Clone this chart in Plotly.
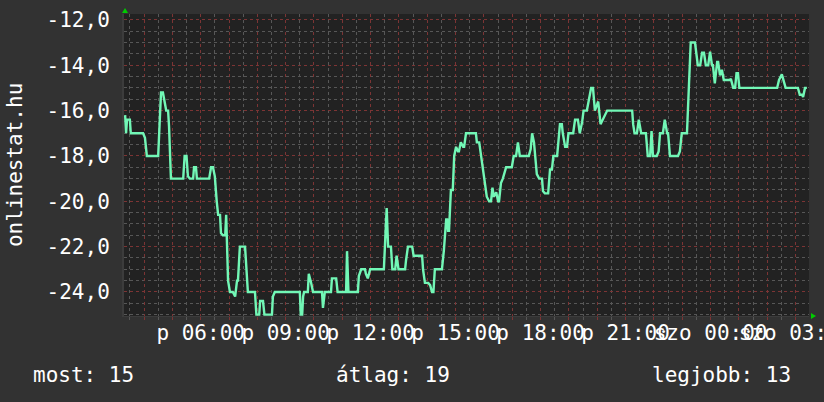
import plotly.graph_objects as go
from datetime import datetime, timedelta

# ---------------- data ----------------
BASE = datetime(2024, 5, 3)  # péntek 00:00

# minutes since Friday 00:00
minutes = [200, 202, 204, 210, 212, 238, 242, 246, 270, 272, 276, 280, 282, 287, 291, 293, 297,
           323, 326, 330, 333, 337, 344, 346, 350, 352, 378, 382, 386, 390, 394, 397, 401, 403,
           407, 412, 414, 418, 422, 428, 433, 437, 439, 443, 454, 457, 460, 475, 478, 484, 486,
           492, 495, 511, 513, 517, 570, 572, 575, 577, 579, 587, 589, 594, 598, 617, 619, 623,
           636, 638, 647, 650, 668, 670, 673, 693, 695, 700, 708, 710, 714, 719, 748, 754, 757,
           763, 766, 772, 775, 779, 793, 795, 799, 808, 811, 829, 831, 835, 842, 846, 850, 853,
           856, 871, 875, 880, 882, 884, 886, 890, 894, 897, 901, 905, 907, 911, 916, 918, 922,
           943, 945, 950, 954, 958, 962, 966, 971, 975, 978, 981, 986, 990, 992, 996, 1000, 1007,
           1019, 1023, 1028, 1032, 1036, 1055, 1059, 1062, 1066, 1072, 1077, 1083, 1085, 1089,
           1096, 1100, 1104, 1107, 1115, 1117, 1121, 1125, 1127, 1132, 1136, 1139, 1149, 1153,
           1159, 1163, 1168, 1171, 1178, 1187, 1191, 1195, 1202, 1207, 1212, 1221, 1274, 1276,
           1279, 1284, 1288, 1293, 1303, 1307, 1312, 1315, 1318, 1326, 1330, 1333, 1339, 1343,
           1348, 1350, 1354, 1371, 1375, 1379, 1390, 1394, 1398, 1407, 1411, 1413, 1418, 1422,
           1426, 1430, 1435, 1439, 1443, 1445, 1449, 1454, 1456, 1460, 1464, 1468, 1481, 1483,
           1488, 1492, 1495, 1498, 1501, 1581, 1585, 1591, 1599, 1625, 1629, 1634, 1636, 1640,
           1644]

values = [-16.2, -17.0, -16.4, -16.4, -17.0, -17.0, -17.2, -18.0, -18.0, -17.2, -15.2, -15.2,
          -15.45, -16.0, -16.0, -16.7, -19.0, -19.0, -18.0, -18.0, -18.9, -19.0, -19.0, -18.5,
          -18.5, -19.0, -19.0, -18.5, -18.5, -18.9, -20.0, -20.6, -20.6, -21.4, -21.5, -21.5,
          -20.6, -23.5, -24.0, -24.0, -24.2, -23.5, -23.5, -22.0, -22.0, -23.1, -24.0, -24.0,
          -25.0, -25.0, -24.4, -24.4, -25.0, -25.0, -24.2, -24.0, -24.0, -25.0, -25.0, -24.2,
          -24.0, -24.0, -23.2, -23.6, -24.0, -24.0, -24.7, -24.0, -24.0, -23.4, -23.4, -24.0,
          -24.0, -22.2, -24.0, -24.0, -23.3, -23.0, -23.0, -23.2, -23.4, -23.0, -23.0, -20.3,
          -22.0, -22.0, -23.0, -23.0, -22.4, -23.0, -23.0, -22.6, -22.0, -22.0, -22.4, -22.4,
          -23.0, -23.6, -23.6, -23.7, -24.0, -24.0, -23.0, -23.0, -22.2, -20.8, -20.8, -21.3,
          -21.3, -19.5, -19.5, -18.0, -17.6, -17.8, -17.8, -17.4, -17.6, -17.6, -17.0, -17.0,
          -17.4, -17.4, -18.0, -18.6, -19.0, -19.8, -20.0, -20.0, -19.4, -19.8, -19.6, -20.0,
          -20.0, -19.2, -19.0, -18.5, -18.5, -18.0, -18.0, -17.4, -18.0, -18.0, -17.7, -17.0,
          -17.4, -18.8, -19.0, -19.0, -19.55, -19.65, -19.65, -18.6, -18.6, -18.0, -18.0, -17.6,
          -16.6, -16.6, -17.0, -17.6, -17.6, -17.0, -17.0, -16.4, -16.4, -17.0, -16.5, -16.0,
          -16.0, -15.0, -15.0, -16.0, -15.6, -16.6, -16.4, -16.0, -16.0, -16.6, -17.0, -17.0,
          -16.4, -17.0, -17.0, -18.0, -18.0, -16.9, -18.0, -18.0, -17.8, -17.0, -17.0, -16.4,
          -17.0, -17.0, -18.0, -18.0, -17.8, -17.0, -17.0, -15.2, -13.0, -13.0, -13.6, -14.0,
          -14.0, -13.45, -13.45, -14.0, -14.0, -13.4, -14.0, -14.0, -14.8, -13.85, -13.85, -14.45,
          -14.2, -14.65, -14.65, -14.6, -15.0, -15.0, -14.35, -14.35, -15.0, -15.0, -14.65,
          -14.4, -15.0, -15.0, -15.3, -15.3, -15.4, -15.0, -15.0]

x_range_minutes = [197.6, 1648.5]

grid_hours = list(range(4, 28))                      # red hourly grid
label_hours = [6, 9, 12, 15, 18, 21, 24, 27]
label_texts = ["p 06:00", "p 09:00", "p 12:00", "p 15:00", "p 18:00", "p 21:00",
               "szo 00:00", "szo 03:00"]

y_ticks = [-24, -22, -20, -18, -16, -14, -12]
y_tick_labels = ["-24,0", "-22,0", "-20,0", "-18,0", "-16,0", "-14,0", "-12,0"]
y_range = [-25.06, -11.74]

title_text = "onlinestat.hu"
stat_labels = ["most", "átlag", "legjobb"]
stat_values = [15, 19, 13]

# ---------------- figure ----------------
def t(m):
    return BASE + timedelta(minutes=m)

xs = [t(m) for m in minutes]

FONT = "DejaVu Sans Mono"
RED = "#7c3434"
GRAY = "#575757"

fig = go.Figure()
fig.add_trace(go.Scatter(x=xs, y=values, mode="lines",
                         line=dict(color="#72f7b6", width=2.4), hoverinfo="skip"))

tickvals = [t(h * 60) for h in grid_hours]
lab = dict(zip(label_hours, label_texts))
ticktext = [lab.get(h, "") for h in grid_hours]

fig.update_layout(
    width=824, height=402,
    margin=dict(l=124, r=15, t=14, b=86, autoexpand=False),
    paper_bgcolor="#323232", plot_bgcolor="#222222",
    showlegend=False,
    font=dict(family=FONT, size=21, color="#ffffff"),
)

fig.update_xaxes(
    type="date", automargin=False,
    range=[t(x_range_minutes[0]), t(x_range_minutes[1])],
    tickmode="array", tickvals=tickvals, ticktext=ticktext,
    tickangle=0, ticklabeloverflow="allow", ticklabelstandoff=-5,
    showgrid=True, gridcolor=RED, griddash="dot", gridwidth=1,
    ticks="outside", ticklen=3, tickcolor=RED, tickwidth=1,
    tickfont=dict(family=FONT, size=21, color="#ffffff"),
    minor=dict(tickmode="linear", tick0=BASE, dtick=30 * 60 * 1000,
               showgrid=True, gridcolor=GRAY, griddash="dot", gridwidth=1,
               ticks="outside", ticklen=3, tickcolor=GRAY),
    zeroline=False, showline=True, linecolor="#3c3c3c", linewidth=1,
)

fig.update_yaxes(
    automargin=False,
    range=y_range,
    tickmode="array", tickvals=y_ticks, ticktext=y_tick_labels,
    showgrid=True, gridcolor=RED, griddash="dot", gridwidth=1,
    ticks="", ticklabelstandoff=8,
    tickfont=dict(family=FONT, size=21, color="#ffffff"),
    minor=dict(tickmode="linear", tick0=0, dtick=0.5,
               showgrid=True, gridcolor=GRAY, griddash="dot", gridwidth=1),
    zeroline=False, showline=True, linecolor="#3c3c3c", linewidth=2,
)

# y-axis title
fig.add_annotation(text=title_text, xref="paper", yref="paper", x=-0.159, y=0.5,
                   xanchor="center", yanchor="middle",
                   textangle=-90, showarrow=False,
                   font=dict(family=FONT, size=21, color="#ffffff"))

# bottom statistics
stat_pos = [(-0.136, "left"), (0.306, "left"), (0.976, "right")]
for (lbl, val), (px, anc) in zip(zip(stat_labels, stat_values), stat_pos):
    fig.add_annotation(text=f"{lbl}: {val}", xref="paper", yref="paper",
                       x=px, y=-0.195, xanchor=anc, yanchor="middle", showarrow=False,
                       font=dict(family=FONT, size=21, color="#ffffff"))

# axis arrows (rrdtool style)
fig.add_shape(type="path", xref="paper", yref="paper",
              path="M 0.0015,1.0199 L -0.0029,1.0033 L 0.0059,1.0033 Z",
              fillcolor="#00cc00", line=dict(width=0))
fig.add_shape(type="path", xref="paper", yref="paper",
              path="M 1.0102,0 L 1.0029,0.0099 L 1.0029,-0.0099 Z",
              fillcolor="#00cc00", line=dict(width=0))

fig.write_html("out.html", config={"displayModeBar": False},
               post_script="document.body.style.margin='0px';document.body.style.overflow='hidden';")
